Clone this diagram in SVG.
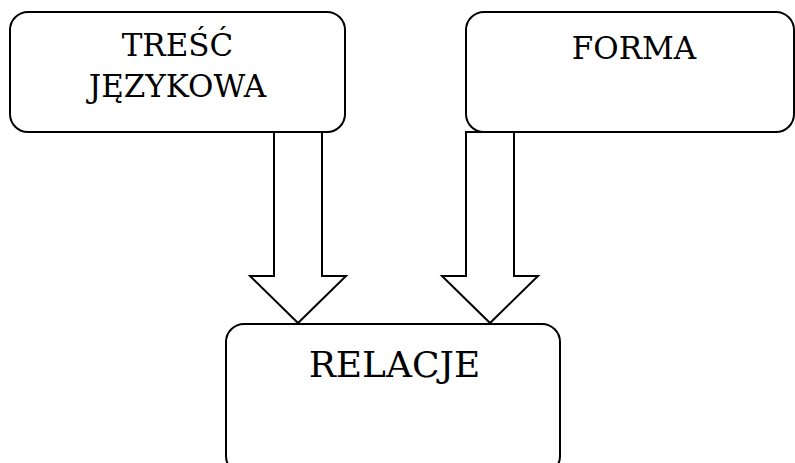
<svg xmlns="http://www.w3.org/2000/svg" width="795" height="463" viewBox="0 0 795 463">
  <style>
    .box { fill: #ffffff; stroke: #000000; stroke-width: 2; }
    .arrow { fill: #ffffff; stroke: #000000; stroke-width: 2; stroke-linejoin: miter; }
    .label { font-family: "DejaVu Serif", "Liberation Serif", serif; fill: #000000; text-anchor: middle; }
  </style>
  <rect width="795" height="463" fill="#ffffff"/>

  <!-- block arrows -->
  <g id="connectors">
    <polygon class="arrow" points="274,132 322,132 322,276 346,276 298,323 250,276 274,276"/>
    <polygon class="arrow" points="466,132 514,132 514,276 538,276 490,323 442,276 466,276"/>
  </g>

  <g id="tresc">
    <rect class="box" x="10" y="12" width="335" height="120" rx="18" ry="18"/>
    <text class="label" x="177.5" y="56" font-size="31">TREŚĆ</text>
    <text class="label" x="177.5" y="97" font-size="31">JĘZYKOWA</text>
  </g>

  <g id="forma">
    <rect class="box" x="466" y="12" width="328" height="120" rx="18" ry="18"/>
    <text class="label" x="634" y="59" font-size="31">FORMA</text>
  </g>

  <g id="relacje">
    <rect class="box" x="226" y="324" width="334" height="150" rx="18" ry="18"/>
    <text class="label" x="394.5" y="377" font-size="36">RELACJE</text>
  </g>
</svg>
